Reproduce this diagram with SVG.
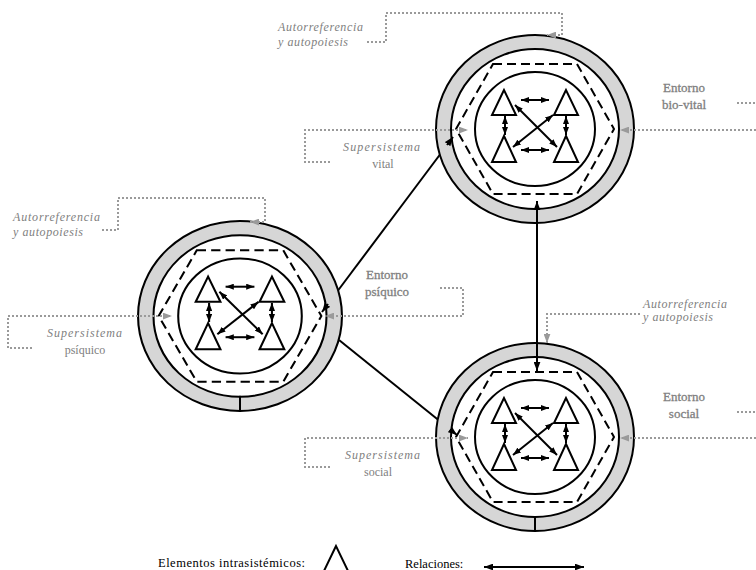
<svg xmlns="http://www.w3.org/2000/svg" xmlns:xlink="http://www.w3.org/1999/xlink" width="756" height="570" viewBox="0 0 756 570">
<style>
.ring{fill:#d6d6d6;stroke:#000;stroke-width:2}
.band{fill:#fff;stroke:#000;stroke-width:2}
.inner{fill:none;stroke:#000;stroke-width:2}
.dash{fill:none;stroke:#000;stroke-width:2;stroke-dasharray:9 5}
.el{fill:#fff;stroke:#000;stroke-width:2;stroke-linejoin:miter}
.rel{stroke:#000;stroke-width:2;fill:none;marker-start:url(#ah);marker-end:url(#ah)}
.con{stroke:#000;stroke-width:2;fill:none}
.conh{stroke:#000;stroke-width:2;fill:none;marker-end:url(#ah2)}
.dot{fill:none;stroke:#9a9a9a;stroke-width:2;stroke-dasharray:2 2}
.dota{fill:none;stroke:#9a9a9a;stroke-width:2;stroke-dasharray:2 2;marker-end:url(#ga)}
.lbl{font-family:"Liberation Serif","DejaVu Serif",serif;font-size:12px;fill:#808080}
.it{font-style:italic}
.env{font-size:13px;stroke:#808080;stroke-width:0.3}
.leg{font-family:"Liberation Serif","DejaVu Serif",serif;font-size:12.5px;fill:#000}
</style>
<defs>
<marker id="ah" viewBox="0 0 8 6" refX="8" refY="3" markerWidth="8" markerHeight="6" markerUnits="userSpaceOnUse" orient="auto-start-reverse"><path d="M0,0 L8,3 L0,6 z" fill="#000"/></marker>
<marker id="ah2" viewBox="0 0 8 6" refX="8" refY="3" markerWidth="9" markerHeight="7" markerUnits="userSpaceOnUse" orient="auto-start-reverse"><path d="M0,0 L8,3 L0,6 z" fill="#000"/></marker>
<marker id="ga" viewBox="0 0 8 6" refX="8" refY="3" markerWidth="9" markerHeight="7" markerUnits="userSpaceOnUse" orient="auto"><path d="M0,0 L8,3 L0,6 z" fill="#9a9a9a"/></marker>
<g id="sys">
<ellipse class="ring" rx="99" ry="94"/>
<ellipse class="band" rx="84" ry="80"/>
<ellipse class="inner" rx="60" ry="57"/>
<polygon class="dash" points="-42,-65 42,-65 79,0 42,65 -42,65 -79,0"/>
<polygon class="el" points="-31,-39 -43,-14 -19,-14"/>
<polygon class="el" points="31,-39 19,-14 43,-14"/>
<polygon class="el" points="-31,7 -43,33 -19,33"/>
<polygon class="el" points="31,7 19,33 43,33"/>
<line class="rel" x1="-14" y1="-29" x2="14" y2="-29"/>
<line class="rel" x1="-14" y1="21" x2="14" y2="21"/>
<line class="rel" x1="-30" y1="-13" x2="-30" y2="6"/>
<line class="rel" x1="31" y1="-13" x2="31" y2="6"/>
<line class="rel" x1="-20" y1="-24" x2="22" y2="18"/>
<line class="rel" x1="18" y1="-14" x2="-22" y2="18"/>
</g>
</defs>

<g id="node-vital" transform="translate(535,129)"><use href="#sys" xlink:href="#sys"/></g>
<g id="node-psiquico" transform="translate(240,316) scale(1.03,1.01)"><use href="#sys" xlink:href="#sys"/><line class="con" x1="0" y1="79" x2="0" y2="94"/></g>
<g id="node-social" transform="translate(535,437)"><use href="#sys" xlink:href="#sys"/><line class="con" x1="0" y1="80" x2="0" y2="94"/></g>

<g id="connectors">
<line class="con" x1="338" y1="290.5" x2="440" y2="154.5"/>
<line class="conh" x1="447" y1="145" x2="453" y2="137"/>
<line class="conh" x1="328" y1="304" x2="322" y2="312"/>
<line class="con" x1="339" y1="340" x2="437.5" y2="419.3"/>
<line class="conh" x1="450" y1="429.5" x2="457" y2="435"/>
<line class="con" x1="537" y1="201" x2="537" y2="371" style="marker-start:url(#ah2);marker-end:url(#ah2)"/>
</g>

<g id="label-autorref-vital">
<path class="dota" d="M367,42 H386 V13 H562 V35 H547"/>
<text class="lbl it" x="278" y="31" textLength="85" lengthAdjust="spacing">Autorreferencia</text>
<text class="lbl it" x="278" y="46" textLength="70" lengthAdjust="spacing">y autopoiesis</text>
</g>
<g id="label-super-vital">
<path class="dota" d="M330,162 H305 V130 H468"/>
<text class="lbl it" x="343" y="151" textLength="77" lengthAdjust="spacing">Supersistema</text>
<text class="lbl" x="383" y="168" text-anchor="middle">vital</text>
</g>
<g id="label-entorno-vital">
<path class="dota" d="M756,130 H620"/>
<path class="dot" d="M737,103 H756"/>
<text class="lbl env" x="684" y="92" text-anchor="middle">Entorno</text>
<text class="lbl env" x="684" y="109" text-anchor="middle">bio-vital</text>
</g>
<g id="label-autorref-psiquico">
<path class="dota" d="M102,230 H118 V198 H265 V222 H250"/>
<text class="lbl it" x="13" y="221" textLength="87" lengthAdjust="spacing">Autorreferencia</text>
<text class="lbl it" x="13" y="236" textLength="70" lengthAdjust="spacing">y autopoiesis</text>
</g>
<g id="label-super-psiquico">
<path class="dota" d="M32,348 H8 V316 H172"/>
<text class="lbl it" x="47" y="337" textLength="75" lengthAdjust="spacing">Supersistema</text>
<text class="lbl" x="85" y="354" text-anchor="middle">psíquico</text>
</g>
<g id="label-entorno-psiquico">
<path class="dota" d="M440,288 H463 V316 H325"/>
<text class="lbl env" x="387" y="279" text-anchor="middle">Entorno</text>
<text class="lbl env" x="387" y="296" text-anchor="middle">psíquico</text>
</g>
<g id="label-autorref-social">
<path class="dota" d="M640,314 H547 V343"/>
<text class="lbl it" x="643" y="308" textLength="84" lengthAdjust="spacing">Autorreferencia</text>
<text class="lbl it" x="643" y="321" textLength="70" lengthAdjust="spacing">y autopoiesis</text>
</g>
<g id="label-super-social">
<path class="dota" d="M330,467 H305 V438 H468"/>
<text class="lbl it" x="345" y="459" textLength="75" lengthAdjust="spacing">Supersistema</text>
<text class="lbl" x="378" y="476" text-anchor="middle">social</text>
</g>
<g id="label-entorno-social">
<path class="dota" d="M756,438 H620"/>
<path class="dot" d="M737,412 H756"/>
<text class="lbl env" x="684" y="401" text-anchor="middle">Entorno</text>
<text class="lbl env" x="684" y="418" text-anchor="middle">social</text>
</g>

<g id="legend">
<text class="leg" x="158" y="567" textLength="147" lengthAdjust="spacing">Elementos intrasistémicos:</text>
<polygon class="el" points="336,546 323,573 349,573"/>
<text class="leg" x="405" y="568">Relaciones:</text>
<line class="con" x1="484" y1="567" x2="584" y2="567" style="marker-start:url(#ah2);marker-end:url(#ah2)"/>
</g>
</svg>
